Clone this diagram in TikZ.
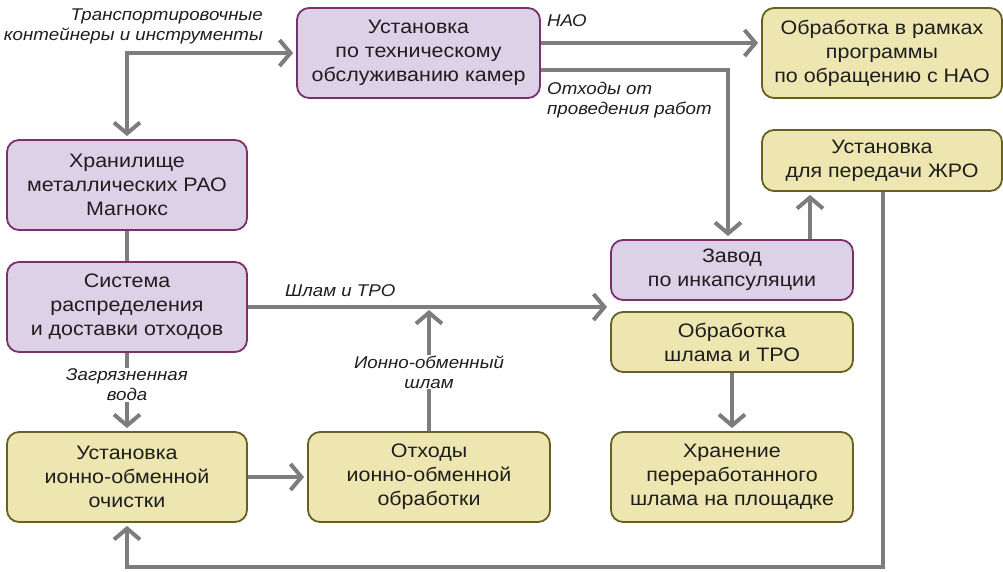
\documentclass[tikz,border=0pt]{standalone}
\usepackage{fontspec}
\setmainfont{Liberation Sans}[FakeStretch=1.1]
\usetikzlibrary{arrows.meta}
\definecolor{pfill}{RGB}{221,209,231}
\definecolor{pline}{RGB}{122,48,108}
\definecolor{yfill}{RGB}{238,230,176}
\definecolor{yline}{RGB}{104,96,34}
\definecolor{conn}{RGB}{125,125,125}
\definecolor{txt}{RGB}{30,30,30}
\begin{document}
\begin{tikzpicture}[x=1pt,y=-1pt,
  box/.style={rounded corners=12pt, line width=1.8pt, inner sep=0pt, align=center,
    font=\fontsize{19.5}{24}\selectfont, text=txt, minimum width=240pt},
  pbox/.style={box, fill=pfill, draw=pline},
  ybox/.style={box, fill=yfill, draw=yline},
  line/.style={draw=conn, line width=4pt},
  arr/.style={line, -{Straight Barb[length=11pt,width=26pt]}, shorten >=3pt},
  arr2/.style={line, {Straight Barb[length=11pt,width=26pt]}-{Straight Barb[length=11pt,width=26pt]}, shorten >=3pt, shorten <=3pt},
  lab/.style={font=\fontsize{17}{20}\selectfont\itshape, text=txt, inner sep=1pt}
]
\useasboundingbox (0,0) rectangle (1003,572);

\node[pbox, minimum width=243pt, minimum height=90pt] (mnt) at (418.5,53) {Установка\\по техническому\\обслуживанию камер};
\node[ybox, minimum height=90pt] (nao) at (882,53) {Обработка в рамках\\программы\\по обращению с НАО};
\node[pbox, minimum height=90pt] (store) at (127,185) {Хранилище\\металлических РАО\\Магнокс};
\node[pbox, minimum height=90pt] (sys) at (127,307) {Система\\распределения\\и доставки отходов};
\node[ybox, minimum height=61pt] (zhro) at (882,160.5) {Установка\\для передачи ЖРО};
\node[pbox, minimum width=242pt, minimum height=60pt] (encap) at (732,270) {Завод\\по инкапсуляции};
\node[ybox, minimum width=242pt, minimum height=60pt] (slud) at (732,342) {Обработка\\шлама и ТРО};
\node[ybox, minimum height=90pt] (ionu) at (127,477) {Установка\\ионно-обменной\\очистки};
\node[ybox, minimum width=242pt, minimum height=90pt] (ionw) at (429,477) {Отходы\\ионно-обменной\\обработки};
\node[ybox, minimum width=242pt, minimum height=90pt] (keep) at (732,477) {Хранение\\переработанного\\шлама на площадке};

% top-left split arrow
\draw[arr2] (store.north) |- (mnt.west);
\node[lab, align=right, anchor=north east] (ltr) at (264,8) {Транспортировочные\\контейнеры и инструменты};

% mnt -> nao
\draw[arr] ([yshift=10pt]mnt.east) -- ([yshift=10pt]nao.west);
\node[lab, anchor=west] (lnao) at (546,21) {НАО};

% mnt -> encap
\draw[arr] ([yshift=-17pt]mnt.east) -| ([xshift=-4pt]encap.north);
\node[lab, align=left, anchor=north west] (lwaste) at (546,81) {Отходы от\\проведения работ};

% encap -> zhro
\draw[arr] ([xshift=78pt]encap.north) -- ([xshift=-72pt]zhro.south);

% store -- sys
\draw[line] (store.south) -- (sys.north);

% sys -> encap/slud gap
\draw[arr] (sys.east) -- (sys.east -| encap.west);
\node[lab, anchor=west] (lsl) at (284,291) {Шлам и ТРО};

% sys -> ionu
\draw[arr] (sys.south) -- (ionu.north);
\node[lab, fill=white, align=center] (lwater) at (127,385) {Загрязненная\\вода};

% ionw -> line
\draw[arr] (ionw.north) -- (ionw.north |- sys.east);
\node[lab, fill=white, align=center] (lion) at (429,372) {Ионно-обменный\\шлам};

% ionu -> ionw
\draw[arr] (ionu.east) -- (ionw.west);

% slud -> keep
\draw[arr] (slud.south) -- (keep.north);

% zhro -> loop -> ionu
\coordinate (b1) at (883,567);
\coordinate (b2) at (127,567);
\draw[line, -{Straight Barb[length=11pt,width=26pt]}, shorten >=3pt] ([xshift=1pt]zhro.south) -- (b1) -- (b2) -- (ionu.south);
\end{tikzpicture}
\end{document}
